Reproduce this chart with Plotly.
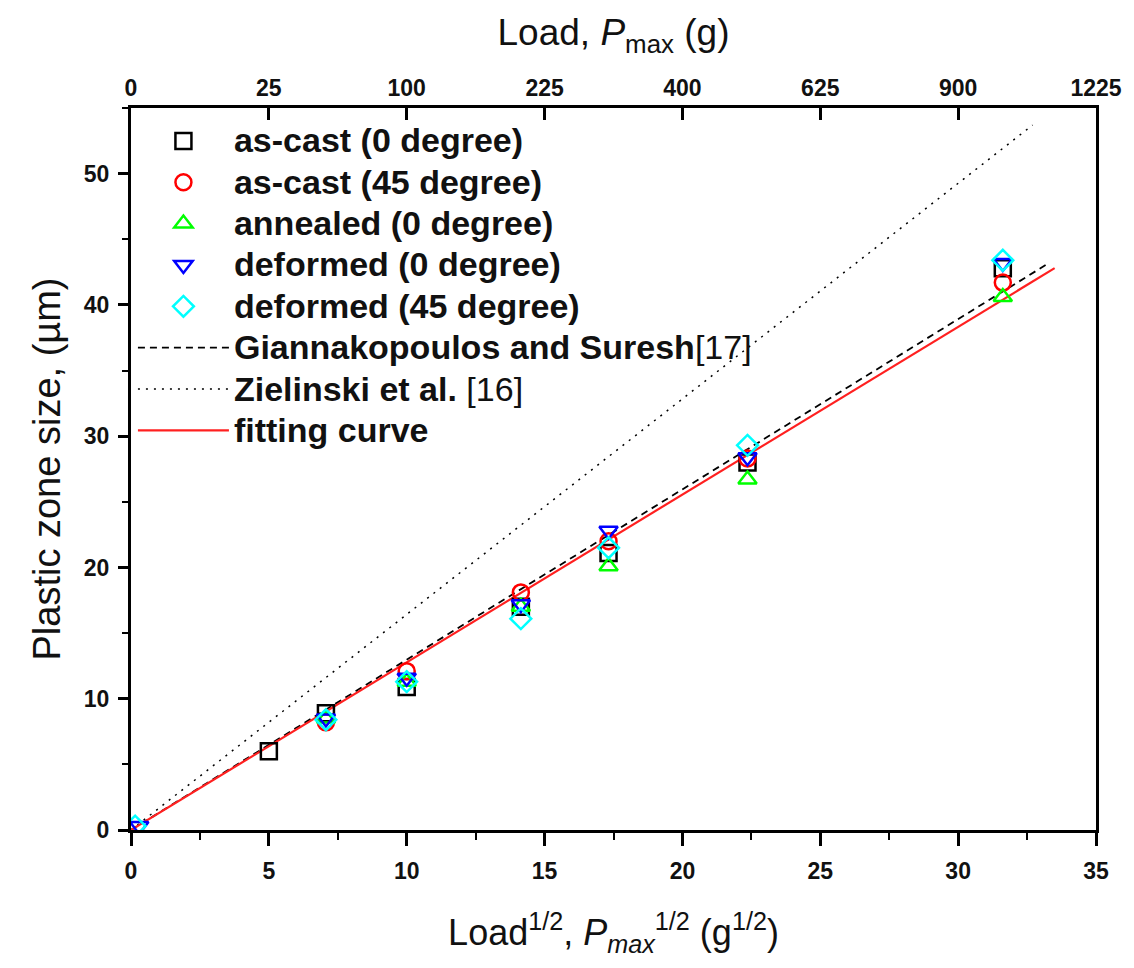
import plotly.graph_objects as go

# ---------------- data ----------------
sqrt_load_ticks = [0, 5, 10, 15, 20, 25, 30, 35]
load_tick_text = ["0", "25", "100", "225", "400", "625", "900", "1225"]

ascast0_x = [5.0, 7.07, 10.0, 14.14, 17.32, 22.36, 31.62]
ascast0_y = [6.0, 8.9, 10.9, 17.0, 21.1, 28.0, 42.8]

ascast45_x = [7.07, 10.0, 14.14, 17.32, 22.36, 31.62]
ascast45_y = [8.2, 12.1, 18.1, 22.0, 28.3, 41.7]

annealed0_x = [7.07, 10.0, 14.14, 17.32, 22.36, 31.62]
annealed0_y = [8.5, 11.3, 17.0, 20.1, 26.7, 40.6]

deformed0_x = [0.3, 7.07, 10.0, 14.14, 17.32, 22.36, 31.62]
deformed0_y = [0.3, 8.5, 11.6, 17.2, 22.8, 28.4, 43.2]

deformed45_x = [0.15, 7.07, 10.0, 14.14, 17.32, 22.36, 31.62]
deformed45_y = [0.3, 8.4, 11.3, 16.1, 21.5, 29.3, 43.4]

gianna_x = [0.0, 33.3]
gianna_y = [0.0, 43.2]

zielinski_x = [0.0, 32.7]
zielinski_y = [0.0, 53.7]

fit_x = [0.0, 33.5]
fit_y = [0.0, 42.8]

# ---------------- figure ----------------
LFONT = "Liberation Sans, Arial"
BIG = '<span style="font-size:34px">'

fig = go.Figure()

fig.add_trace(go.Scatter(x=gianna_x, y=gianna_y, mode="lines",
                         name=BIG + "<b>Giannakopoulos and Suresh</b>[17]</span>",
                         legendgroup="g6", legendrank=6,
                         line=dict(color="black", width=1.8, dash="7px,5px")))
fig.add_trace(go.Scatter(x=zielinski_x, y=zielinski_y, mode="lines",
                         name=BIG + "<b>Zielinski et al.</b> [16]</span>",
                         legendgroup="g7", legendrank=7,
                         line=dict(color="black", width=1.5, dash="2px,6px")))
fig.add_trace(go.Scatter(x=fit_x, y=fit_y, mode="lines",
                         name=BIG + "<b>fitting curve</b></span>",
                         legendgroup="g8", legendrank=8,
                         line=dict(color="#ff2020", width=2.2)))

series = [
    ("as-cast (0 degree)", ascast0_x, ascast0_y, "square-open", "black"),
    ("as-cast (45 degree)", ascast45_x, ascast45_y, "circle-open", "#ff0000"),
    ("annealed (0 degree)", annealed0_x, annealed0_y, "triangle-up-open", "#00ff00"),
    ("deformed (0 degree)", deformed0_x, deformed0_y, "triangle-down-open", "#0000ff"),
    ("deformed (45 degree)", deformed45_x, deformed45_y, "diamond-open", "#00ffff"),
]
for i, (nm, x, y, s, c) in enumerate(series):
    fig.add_trace(go.Scatter(
        x=x, y=y, mode="markers", name=f"{BIG}<b>{nm}</b></span>",
        legendgroup=f"g{i+1}", legendrank=i + 1,
        marker=dict(symbol=s, size=16, color=c, line=dict(color=c, width=2.5)),
    ))

# invisible trace to activate top axis
fig.add_trace(go.Scatter(x=[0], y=[0], xaxis="x2", mode="markers",
                         marker=dict(opacity=0), showlegend=False,
                         hoverinfo="skip"))

tickfont = dict(family=LFONT, size=23, color="#111", weight="bold")

fig.update_layout(
    width=1134, height=968,
    margin=dict(l=131, r=35, t=108, b=138),
    plot_bgcolor="white", paper_bgcolor="white",
    showlegend=True,
    legend=dict(x=0.002, y=0.990, xanchor="left", yanchor="top",
                bgcolor="rgba(0,0,0,0)", borderwidth=0,
                font=dict(family=LFONT, size=29.5, color="#111"),
                itemwidth=91, tracegroupgap=0, itemsizing="trace"),
    xaxis=dict(range=[0, 35], tickvals=sqrt_load_ticks,
               ticks="outside", ticklen=13, tickwidth=2.5, tickcolor="black",
               showline=True, linewidth=3, linecolor="black",
               showgrid=False, zeroline=False, ticklabelstandoff=5,
               minor=dict(dtick=2.5, ticks="outside", ticklen=7, tickwidth=2,
                          tickcolor="black", showgrid=False),
               tickfont=tickfont,
               title=dict(text="Load<sup>1/2</sup>, <i>P<sub>max</sub></i><sup>1/2</sup> (g<sup>1/2</sup>)",
                          font=dict(family=LFONT, size=36, color="#111"), standoff=38)),
    xaxis2=dict(range=[0, 35], overlaying="x", side="top", anchor="y",
                tickvals=sqrt_load_ticks, ticktext=load_tick_text,
                ticks="inside", ticklen=12, tickwidth=2.5, tickcolor="black",
                showline=True, linewidth=3, linecolor="black",
                showgrid=False, zeroline=False,
                tickfont=tickfont,
                title=dict(text="Load, <i>P</i><sub>max</sub> (g)",
                           font=dict(family=LFONT, size=37, color="#111"), standoff=18)),
    yaxis=dict(range=[0, 55], tickvals=[0, 10, 20, 30, 40, 50],
               ticks="outside", ticklen=10, tickwidth=2.5, tickcolor="black",
               showline=True, linewidth=3, linecolor="black", mirror=True,
               showgrid=False, zeroline=False, ticklabelstandoff=4,
               minor=dict(dtick=5, ticks="outside", ticklen=6, tickwidth=2,
                          tickcolor="black", showgrid=False),
               tickfont=tickfont,
               title=dict(text="Plastic zone size, (µm)",
                          font=dict(family=LFONT, size=38, color="#111"), standoff=12)),
)

fig.write_html("out.html")
